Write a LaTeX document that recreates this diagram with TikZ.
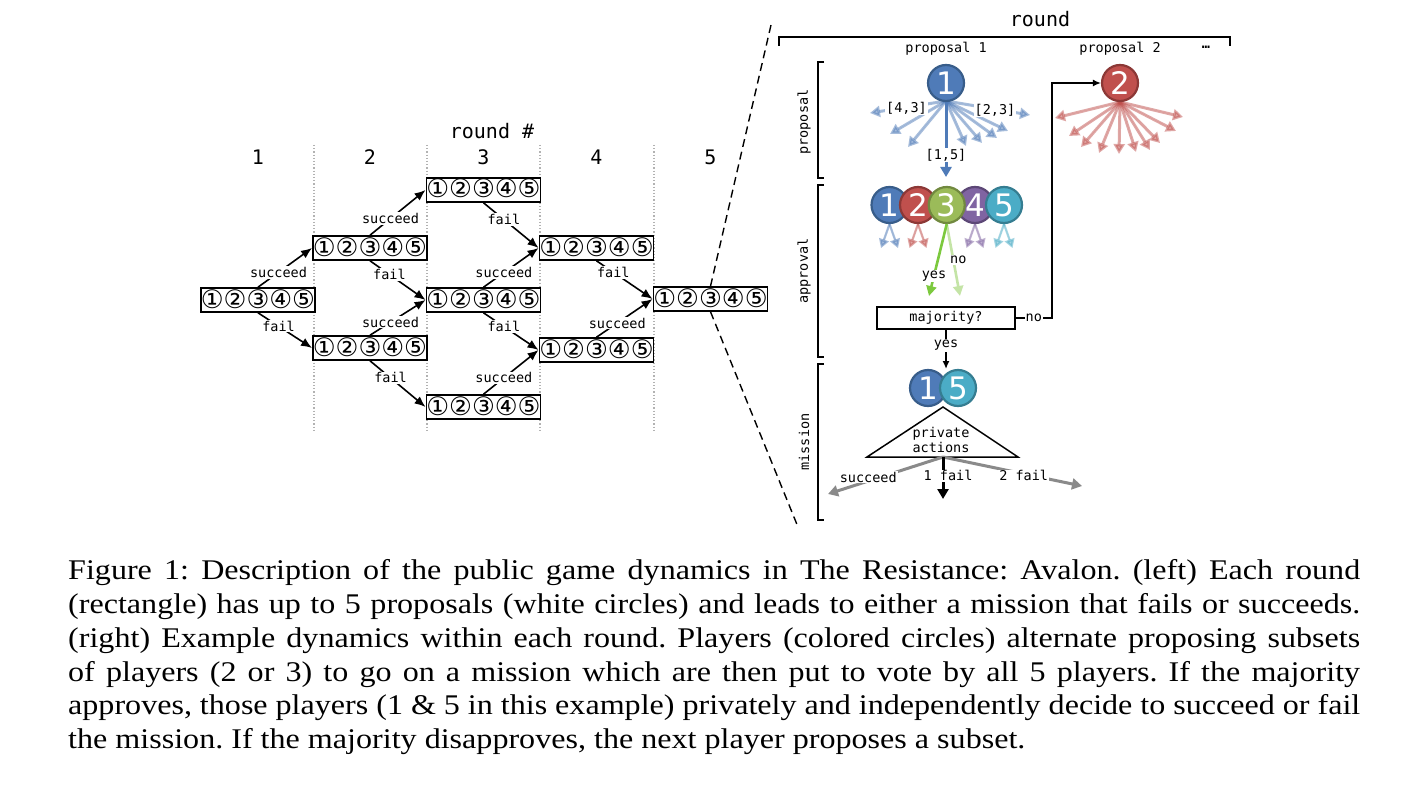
\documentclass[tikz,border=0pt]{standalone}
\usepackage{fontspec}
\setmainfont{Liberation Serif}
\newfontfamily\mono{DejaVu Sans Mono}
\newfontfamily\dvs{DejaVu Sans}
\usetikzlibrary{arrows.meta,calc}
\definecolor{cblue}{HTML}{4F7BB8}
\definecolor{cblueb}{HTML}{385D8A}
\definecolor{cred}{HTML}{C0504D}
\definecolor{credb}{HTML}{8C3836}
\definecolor{cgreen}{HTML}{9BBB59}
\definecolor{cgreenb}{HTML}{71893F}
\definecolor{cpurple}{HTML}{8064A2}
\definecolor{cpurpleb}{HTML}{5C4776}
\definecolor{cteal}{HTML}{4BACC6}
\definecolor{ctealb}{HTML}{357D91}
\definecolor{cyes}{HTML}{7CC93E}
\definecolor{cno}{HTML}{C4E4A6}
\definecolor{cgray}{HTML}{8A8A8A}
\newcommand{\capline}[1]{\scalebox{1.126}[1]{\makebox[1147.4pt][s]{#1}}}
\begin{document}
\begin{tikzpicture}[x=1pt,y=-1pt,
  hdr/.style={font=\mono\fontsize{20}{20}\selectfont, inner sep=0pt},
  lbl/.style={font=\mono\fontsize{13.5}{14}\selectfont, fill=white, inner sep=1pt},
  plain/.style={font=\mono\fontsize{13.5}{14}\selectfont, inner sep=1pt},
  rbox/.style={draw, fill=white, line width=1.6pt, minimum width=112pt, minimum height=24pt, inner sep=0pt, text height=17.5pt, text depth=1.5pt, font=\dvs\fontsize{25.5}{25.5}\selectfont},
  arr/.style={line width=1.6pt, -{Latex[length=11pt,width=9pt]}},
  blk/.style={line width=1.5pt, -{Latex[length=8pt,width=7pt]}},
  brk/.style={line width=1.5pt},
  player/.style 2 args={circle, fill=#1, draw=#2, line width=2.2pt, minimum size=36pt, inner sep=0pt, text=white, font=\dvs\fontsize{31}{31}\selectfont},
  fan/.style={line width=3pt, draw=#1, draw opacity=0.5, fill opacity=0.5, fill=#1, -{Triangle[length=10pt,width=11pt]}},
  sfan/.style={line width=2.2pt, draw=#1, draw opacity=0.5, fill opacity=0.5, fill=#1, -{Triangle[length=9pt,width=10pt]}},
  captxt/.style={font=\fontsize{28.5}{30}\selectfont\frenchspacing, inner sep=0pt, anchor=base west}
]
\useasboundingbox (0,0) rectangle (1404,810);
\fill[white] (0,0) rectangle (1404,810);

% ---------------- left: rounds ----------------
\node[hdr] (hr) at (492,131) {round \#};
\node[hdr] (h1) at (258,157) {1};
\node[hdr] (h2) at (370,157) {2};
\node[hdr] (h3) at (483.5,157) {3};
\node[hdr] (h4) at (596.5,157) {4};
\node[hdr] (h5) at (710.5,157) {5};
\foreach \xx in {314,427,540,654} \draw[gray!60, dotted, line width=1.2pt] (\xx,145) -- (\xx,430);

\node[rbox] (r1)  at (258,300)   {①②③④⑤};
\node[rbox] (r2a) at (370,248)   {①②③④⑤};
\node[rbox] (r2b) at (370,348)   {①②③④⑤};
\node[rbox] (r3a) at (483.5,190) {①②③④⑤};
\node[rbox] (r3b) at (483.5,300) {①②③④⑤};
\node[rbox] (r3c) at (483.5,407) {①②③④⑤};
\node[rbox] (r4a) at (596.5,248) {①②③④⑤};
\node[rbox] (r4b) at (596.5,350) {①②③④⑤};
\node[rbox] (r5)  at (710.5,299) {①②③④⑤};

\draw[arr] (r1.north)  -- node[lbl,pos=0.38]{succeed} (r2a.west);
\draw[arr] (r1.south)  -- node[lbl,pos=0.38]{fail} (r2b.west);
\draw[arr] (r2a.north) -- node[lbl,pos=0.37]{succeed} (r3a.west);
\draw[arr] (r2a.south) -- node[lbl,pos=0.35]{fail} (r3b.west);
\draw[arr] (r2b.north) -- node[lbl,pos=0.37]{succeed} (r3b.west);
\draw[arr] (r2b.south) -- node[lbl,pos=0.37]{fail} (r3c.west);
\draw[arr] (r3a.south) -- node[lbl,pos=0.37]{fail} (r4a.west);
\draw[arr] (r3b.north) -- node[lbl,pos=0.37]{succeed} (r4a.west);
\draw[arr] (r3b.south) -- node[lbl,pos=0.37]{fail} (r4b.west);
\draw[arr] (r3c.north) -- node[lbl,pos=0.37]{succeed} (r4b.west);
\draw[arr] (r4a.south) -- node[lbl,pos=0.3]{fail} (r5.west);
\draw[arr] (r4b.north) -- node[lbl,pos=0.37]{succeed} (r5.west);

\coordinate (zt) at (771,25);
\coordinate (zb) at (798,527);
\draw[line width=1.4pt, dash pattern=on 8pt off 5pt] (r5.north) -- (zt);
\draw[line width=1.4pt, dash pattern=on 8pt off 5pt] (r5.south) -- (zb);

% ---------------- right: one round ----------------
\node[hdr] (hround) at (1040,19) {round};
\draw[brk] (779,46) -- (779,37) -- (1230,37) -- (1230,46);
\node[plain] (pr1) at (946,49) {proposal 1};
\node[plain] (pr2) at (1120,49) {proposal 2};
\node[plain] (pdots) at (1206,47) {\bfseries …};

\draw[brk] (824,62) -- (818,62) -- (818,178) -- (824,178);
\draw[brk] (824,185) -- (818,185) -- (818,357) -- (824,357);
\draw[brk] (824,364) -- (818,364) -- (818,520) -- (824,520);
\node[plain, rotate=90] (lprop) at (804,122) {proposal};
\node[plain, rotate=90] (lappr) at (804,271) {approval};
\node[plain, rotate=90] (lmiss) at (804,442) {mission};

% proposal 1 fan
\coordinate (o1) at (946,101);
\foreach \xx/\yy [count=\i] in {870/113, 890/134, 908/147, 966/146, 982/143, 997/138, 1008/131, 1030/115}
  { \coordinate (b\i) at (\xx,\yy); \draw[fan=cblue] (o1) -- (b\i); }
\coordinate (b15) at (946,177);
\draw[line width=3pt, draw=cblue, fill=cblue, -{Triangle[length=10pt,width=11pt]}] (o1) -- node[lbl,pos=0.71]{[1,5]} (b15);
\node[lbl] (l43) at (906.5,108) {[4,3]};
\node[lbl] (l23) at (995,110) {[2,3]};
\node[player={cblue}{cblueb}] (p1) at (946,83) {1};

% proposal 2 fan
\coordinate (o2) at (1120,102);
\foreach \xx/\yy [count=\i] in {1055/118, 1069/136, 1081/147, 1099/153, 1119/154, 1136/152, 1150/150, 1160/143, 1176/131, 1183/117}
  { \coordinate (c\i) at (\xx,\yy); \draw[fan=cred] (o2) -- (c\i); }
\node[player={cred}{credb}] (p2) at (1120,83) {2};

% approval
\node[player={cblue}{cblueb}] (a1) at (889.5,205) {1};
\node[player={cred}{credb}] (a2) at (918,205) {2};
\node[player={cpurple}{cpurpleb}] (a4) at (975,205) {4};
\node[player={cgreen}{cgreenb}] (a3) at (946.7,205) {3};
\node[player={cteal}{ctealb}] (a5) at (1004,205) {5};
\foreach \n/\c in {a1/cblue, a2/cred, a4/cpurple, a5/cteal} {
  \coordinate (\n l) at ($(\n.south)+(-8.5,24)$);
  \coordinate (\n r) at ($(\n.south)+(8.5,24)$);
  \draw[sfan=\c] (\n.south) -- (\n l);
  \draw[sfan=\c] (\n.south) -- (\n r);
}
\coordinate (vy) at (929,296);
\coordinate (vn) at (960,296);
\draw[line width=2.6pt, draw=cno, fill=cno, -{Triangle[length=10pt,width=10pt]}] (a3.south) -- node[lbl,pos=0.5,xshift=5pt]{no} (vn);
\draw[line width=2.6pt, draw=cyes, fill=cyes, -{Triangle[length=10pt,width=10pt]}] (a3.south) -- node[lbl,pos=0.72]{yes} (vy);

\node[draw, line width=1.5pt, minimum width=138pt, minimum height=22pt, inner sep=0pt, font=\mono\fontsize{13.5}{14}\selectfont] (maj) at (946,318) {majority?};
\draw[blk] (maj.east) -- node[lbl]{no} ++(36,0) |- (p2.west);
\coordinate (mtop) at (946,369);
\draw[blk] (maj.south) -- node[lbl,pos=0.4]{yes} (mtop);

% mission
\node[player={cblue}{cblueb}] (m1) at (928,388) {1};
\node[player={cteal}{ctealb}] (m5) at (958,388) {5};
\coordinate (tapex) at (943,407);
\coordinate (tl) at (867,457);
\coordinate (tr) at (1018,457);
\coordinate (tbase) at (943,457);
\draw[line width=1.5pt, line join=miter] (tapex) -- (tl) -- (tr) -- cycle;
\node[font=\mono\fontsize{13.5}{15}\selectfont, align=center, inner sep=0pt] (pa) at (941,440) {private\\actions};
\coordinate (ms) at (828,494);
\coordinate (mf1) at (943,499);
\coordinate (mf2) at (1082,486);
\draw[line width=3pt, draw=cgray, fill=cgray, -{Triangle[length=10pt,width=11pt]}] (tbase) -- node[lbl,pos=0.65,yshift=4pt]{succeed} (ms);
\draw[line width=3pt, draw=cgray, fill=cgray, -{Triangle[length=10pt,width=11pt]}] (tbase) -- node[lbl,pos=0.58,yshift=-2pt]{2 fail} (mf2);
\draw[line width=3pt, -{Triangle[length=10pt,width=11pt]}] (tbase) -- node[lbl,pos=0.45,xshift=5pt]{1 fail} (mf1);

% ---------------- caption ----------------
\node[captxt] (c1) at (68,579) {\capline{Figure 1: Description of the public game dynamics in The Resistance: Avalon. (left) Each round}};
\node[captxt] (c2) at (68,613) {\capline{(rectangle) has up to 5 proposals (white circles) and leads to either a mission that fails or succeeds.}};
\node[captxt] (c3) at (68,647) {\capline{(right) Example dynamics within each round. Players (colored circles) alternate proposing subsets}};
\node[captxt] (c4) at (68,681) {\capline{of players (2 or 3) to go on a mission which are then put to vote by all 5 players. If the majority}};
\node[captxt] (c5) at (68,714) {\capline{approves, those players (1 \& 5 in this example) privately and independently decide to succeed or fail}};
\node[captxt] (c6) at (68,748) {\scalebox{1.126}[1]{the mission. If the majority disapproves, the next player proposes a subset.}};
\end{tikzpicture}
\end{document}
